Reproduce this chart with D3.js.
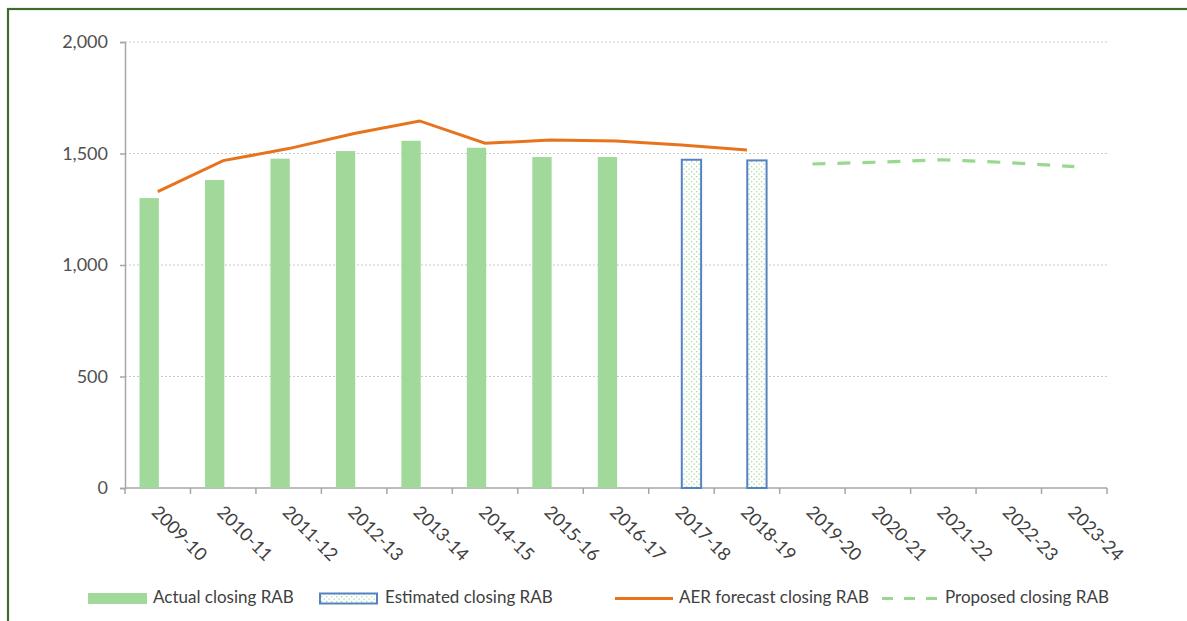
<!DOCTYPE html>
<html>
<head>
<meta charset="utf-8">
<script src="https://cdn.jsdelivr.net/npm/d3@7"></script>
<style>
  html, body { margin: 0; padding: 0; background: #ffffff; }
  svg { display: block; font-family: Lato, "Open Sans", sans-serif; }
</style>
</head>
<body>
<svg id="chart" width="1187" height="621"></svg>
<script>
// Financial years on the category axis
const years = ["2009-10", "2010-11", "2011-12", "2012-13", "2013-14", "2014-15", "2015-16",
               "2016-17", "2017-18", "2018-19", "2019-20", "2020-21", "2021-22", "2022-23", "2023-24"];

// Closing RAB ($m)
const actualYears = ["2009-10", "2010-11", "2011-12", "2012-13", "2013-14", "2014-15", "2015-16", "2016-17"];
const actualRAB = [1300, 1381, 1477, 1511, 1557, 1526, 1484, 1484];

const estimatedYears = ["2017-18", "2018-19"];
const estimatedRAB = [1472, 1469];

const forecastYears = ["2009-10", "2010-11", "2011-12", "2012-13", "2013-14", "2014-15", "2015-16",
                       "2016-17", "2017-18", "2018-19"];
const forecastRAB = [1329, 1468, 1522, 1590, 1646, 1546, 1560, 1556, 1538, 1516];

const proposedYears = ["2019-20", "2020-21", "2021-22", "2022-23", "2023-24"];
const proposedRAB = [1453, 1461, 1472, 1459, 1441];

const yTicks = [0, 500, 1000, 1500, 2000];

const svg = d3.select("#chart");

// Outer frame
svg.append("rect")
  .attr("x", 8).attr("y", 9)
  .attr("width", 1200).attr("height", 640)
  .attr("fill", "none")
  .attr("stroke", "#3f6b30")
  .attr("stroke-width", 2.2);

const plot = { left: 125, right: 1107, top: 42, bottom: 488 };

const x = d3.scaleBand().domain(years).range([plot.left, plot.right]).padding(0);
const y = d3.scaleLinear().domain([0, 2000]).range([plot.bottom, plot.top]);
const bw = x.bandwidth();

// Dotted fill for estimated bars
const defs = svg.append("defs");
const pat = defs.append("pattern")
  .attr("id", "dots")
  .attr("patternUnits", "userSpaceOnUse")
  .attr("width", 5).attr("height", 5);
pat.append("rect").attr("width", 5).attr("height", 5).attr("fill", "#ffffff");
pat.append("rect").attr("x", 1).attr("y", 1).attr("width", 1.3).attr("height", 1.3).attr("fill", "#a9dca3");
pat.append("rect").attr("x", 3.5).attr("y", 3.5).attr("width", 1.3).attr("height", 1.3).attr("fill", "#a9dca3");

// Gridlines
svg.append("g")
  .selectAll("line")
  .data(yTicks.filter(d => d > 0))
  .join("line")
  .attr("x1", plot.left).attr("x2", plot.right)
  .attr("y1", d => y(d)).attr("y2", d => y(d))
  .attr("stroke", "#c9c9c9")
  .attr("stroke-width", 1)
  .attr("stroke-dasharray", "2,2");

// Y axis
const yAxis = svg.append("g")
  .attr("transform", `translate(${plot.left},0)`)
  .call(d3.axisLeft(y).tickValues(yTicks).tickSize(5).tickPadding(12).tickFormat(d3.format(",")));
yAxis.select(".domain").attr("stroke", "#a6a6a6").attr("stroke-width", 1.5);
yAxis.selectAll(".tick line").attr("stroke", "#a6a6a6").attr("stroke-width", 1.5);
yAxis.selectAll(".tick text")
  .attr("fill", "#505050")
  .style("font-size", "18px")
  .style("font-family", "Lato, sans-serif");

// X axis with ticks between categories
const xAxis = svg.append("g").attr("transform", `translate(0,${plot.bottom})`);
xAxis.append("line")
  .attr("x1", plot.left).attr("x2", plot.right)
  .attr("stroke", "#a6a6a6").attr("stroke-width", 1.5);
const boundaries = years.map(d => x(d)).concat([plot.right]);
xAxis.selectAll("line.tk")
  .data(boundaries)
  .join("line")
  .attr("class", "tk")
  .attr("x1", d => d).attr("x2", d => d)
  .attr("y1", 0).attr("y2", 6)
  .attr("stroke", "#a6a6a6").attr("stroke-width", 1.5);
xAxis.selectAll("text")
  .data(years)
  .join("text")
  .attr("transform", d => `translate(${x(d) + bw / 2 - 4},${22}) rotate(45)`)
  .attr("text-anchor", "start")
  .attr("dominant-baseline", "middle")
  .attr("fill", "#404040")
  .style("font-size", "18px")
  .text(d => d);

// Actual closing RAB bars (left slot of each category)
const slotW = bw * 0.295;
svg.append("g")
  .selectAll("rect")
  .data(actualYears.map((d, i) => ({ year: d, v: actualRAB[i] })))
  .join("rect")
  .attr("x", d => x(d.year) + bw * 0.222)
  .attr("y", d => y(d.v))
  .attr("width", slotW)
  .attr("height", d => y(0) - y(d.v))
  .attr("fill", "#a0d99a");

// Estimated closing RAB bars (right slot)
svg.append("g")
  .selectAll("rect")
  .data(estimatedYears.map((d, i) => ({ year: d, v: estimatedRAB[i] })))
  .join("rect")
  .attr("x", d => x(d.year) + bw * 0.505)
  .attr("y", d => y(d.v))
  .attr("width", slotW)
  .attr("height", d => y(0) - y(d.v))
  .attr("fill", "url(#dots)")
  .attr("stroke", "#5583c2")
  .attr("stroke-width", 2);

// AER forecast line
const lineGen = d3.line().x(d => x(d.year) + bw / 2).y(d => y(d.v));
svg.append("path")
  .datum(forecastYears.map((d, i) => ({ year: d, v: forecastRAB[i] })))
  .attr("d", lineGen)
  .attr("fill", "none")
  .attr("stroke", "#e8731d")
  .attr("stroke-width", 3);

// Proposed line
svg.append("path")
  .datum(proposedYears.map((d, i) => ({ year: d, v: proposedRAB[i] })))
  .attr("d", lineGen)
  .attr("fill", "none")
  .attr("stroke", "#98d88f")
  .attr("stroke-width", 3.2)
  .attr("stroke-dasharray", "13,12");

// Legend
const leg = svg.append("g").style("font-size", "17px").attr("fill", "#404040");
const ly = 598.5;
leg.append("rect").attr("x", 88).attr("y", ly - 5.5).attr("width", 59).attr("height", 11).attr("fill", "#a0d99a");
leg.append("text").attr("x", 153).attr("y", ly).attr("dominant-baseline", "middle").text("Actual closing RAB");

leg.append("rect").attr("x", 320).attr("y", ly - 5).attr("width", 57).attr("height", 10)
  .attr("fill", "url(#dots)").attr("stroke", "#5583c2").attr("stroke-width", 2);
leg.append("text").attr("x", 385).attr("y", ly).attr("dominant-baseline", "middle").text("Estimated closing RAB");

leg.append("line").attr("x1", 615).attr("x2", 673).attr("y1", ly).attr("y2", ly)
  .attr("stroke", "#e8731d").attr("stroke-width", 3);
leg.append("text").attr("x", 679).attr("y", ly).attr("dominant-baseline", "middle").text("AER forecast closing RAB");

leg.append("line").attr("x1", 882).attr("x2", 938).attr("y1", ly).attr("y2", ly)
  .attr("stroke", "#98d88f").attr("stroke-width", 3.2).attr("stroke-dasharray", "11,11");
leg.append("text").attr("x", 945).attr("y", ly).attr("dominant-baseline", "middle").text("Proposed closing RAB");
</script>
</body>
</html>
